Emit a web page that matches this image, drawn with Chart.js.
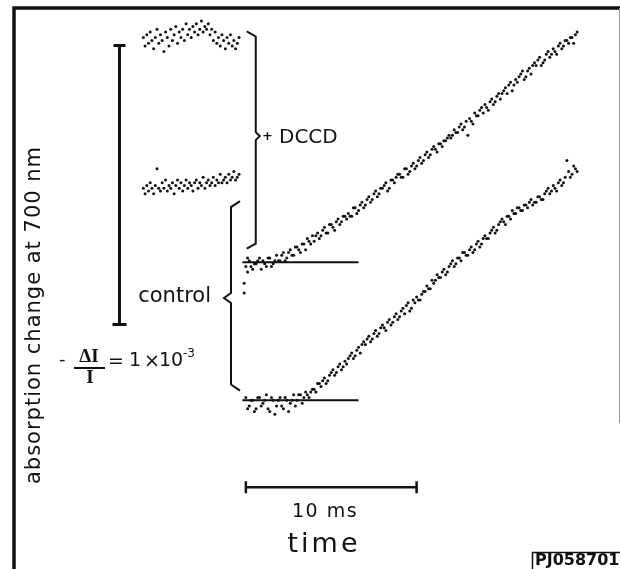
<!DOCTYPE html>
<html>
<head>
<meta charset="utf-8">
<script src="https://cdn.jsdelivr.net/npm/chart.js@4.4.1/dist/chart.umd.min.js"></script>
<style>
  html, body { margin: 0; padding: 0; background: #fff; }
  #wrap { width: 620px; height: 569px; }
</style>
</head>
<body>
<div id="wrap"><canvas id="myChart" width="620" height="569"></canvas></div>
<script>
// time in ms (0 = flash), absorption change in units of 1e-4 (traces offset for display)
const tPre = [-6.0, -5.9, -5.8, -5.7, -5.6, -5.5, -5.4, -5.3, -5.2, -5.1,
  -5.0, -4.9, -4.8, -4.7, -4.6, -4.5, -4.4, -4.3, -4.2, -4.1,
  -4.0, -3.9, -3.8, -3.7, -3.6, -3.5, -3.4, -3.3, -3.2, -3.1,
  -3.0, -2.9, -2.8, -2.7, -2.6, -2.5, -2.4, -2.3, -2.2, -2.1,
  -2.0, -1.9, -1.8, -1.7, -1.6, -1.5, -1.4, -1.3, -1.2, -1.1,
  -1.0, -0.9, -0.8, -0.7, -0.6, -0.5, -0.4];

const dccdPre = [13.0, 12.7, 13.1, 12.8, 13.2, 12.9, 12.6, 13.0, 13.3, 12.8,
  13.1, 12.9, 12.5, 13.2, 13.0, 12.7, 13.3, 12.9, 13.1, 13.4,
  12.8, 13.2, 13.0, 13.3, 12.9, 13.5, 13.1, 13.3, 13.0, 13.4,
  13.2, 13.5, 13.1, 13.3, 13.6, 13.2, 13.4, 13.3, 13.5, 13.1,
  13.3, 12.9, 13.2, 12.8, 13.0, 12.7, 13.1, 12.9, 12.6, 13.0,
  12.8, 13.1, 12.7, 12.9, 12.6, 12.8, 13.0];

const controlPre = [7.6, 7.4, 7.7, 7.5, 7.8, 7.6, 7.4, 7.7, 8.3, 7.6,
  7.5, 7.8, 7.6, 7.9, 7.5, 7.7, 7.6, 7.8, 7.4, 7.7,
  7.9, 7.6, 7.8, 7.5, 7.7, 7.9, 7.6, 7.8, 7.7, 7.5,
  7.8, 7.9, 7.6, 7.8, 7.7, 8.0, 7.6, 7.8, 7.9, 7.7,
  7.8, 8.0, 7.7, 7.9, 7.8, 8.1, 7.8, 7.9, 8.0, 7.8,
  8.1, 7.9, 8.0, 8.2, 7.9, 8.0, 8.1];

const tPost = [0.0, 0.2, 0.4, 0.6, 0.8, 1.0, 1.2, 1.4, 1.6, 1.8,
  2.0, 2.2, 2.4, 2.6, 2.8, 3.0, 3.2, 3.4, 3.6, 3.8,
  4.0, 4.2, 4.4, 4.6, 4.8, 5.0, 5.2, 5.4, 5.6, 5.8,
  6.0, 6.2, 6.4, 6.6, 6.8, 7.0, 7.2, 7.4, 7.6, 7.8,
  8.0, 8.2, 8.4, 8.6, 8.8, 9.0, 9.2, 9.4, 9.6, 9.8,
  10.0, 10.2, 10.4, 10.6, 10.8, 11.0, 11.2, 11.4, 11.6, 11.8,
  12.0, 12.2, 12.4, 12.6, 12.8, 13.0, 13.2, 13.4, 13.6, 13.8,
  14.0, 14.2, 14.4, 14.6, 14.8, 15.0, 15.2, 15.4, 15.6, 15.8,
  16.0, 16.2, 16.4, 16.6, 16.8, 17.0, 17.2, 17.4, 17.6, 17.8,
  18.0, 18.2, 18.4, 18.6, 18.8, 19.0, 19.2, 19.4];

const dccdPost = [4.8, 5.0, 4.7, 4.9, 5.1, 5.0, 4.8, 5.1, 4.9, 5.2,
  5.0, 5.3, 5.1, 5.4, 5.2, 5.5, 5.3, 5.6, 5.8, 5.6,
  5.7, 6.0, 5.9, 6.2, 6.0, 6.3, 6.1, 6.5, 6.4, 6.6,
  6.7, 6.6, 6.9, 6.8, 7.1, 7.0, 7.3, 7.2, 7.5, 7.4,
  7.6, 7.8, 7.6, 7.9, 8.0, 8.1, 8.0, 8.3, 8.2, 8.5,
  8.4, 8.7, 8.6, 8.9, 8.8, 9.1, 8.9, 9.2, 9.3, 9.4,
  9.4, 9.7, 9.6, 9.9, 9.8, 9.5, 10.0, 10.3, 10.2, 10.5,
  10.6, 10.4, 10.8, 10.7, 11.0, 11.0, 11.2, 11.3, 11.1, 11.5,
  11.6, 11.8, 11.6, 11.9, 12.0, 12.0, 12.3, 12.1, 12.4, 12.3,
  12.6, 12.4, 12.8, 12.7, 12.9, 13.0, 12.8, 13.2];

const controlPost = [0.1, -0.2, 0.0, -0.3, 0.1, -0.1, 0.2, -0.4, 0.0, -0.2,
  0.1, -0.3, 0.0, -0.1, 0.2, 0.0, 0.2, 0.1, 0.2, 0.3,
  0.4, 0.6, 0.5, 0.8, 0.7, 1.0, 0.9, 1.2, 1.1, 1.4,
  1.5, 1.7, 1.6, 1.9, 2.0, 2.0, 2.3, 2.2, 2.5, 2.4,
  2.7, 2.5, 2.9, 2.8, 3.1, 3.0, 3.3, 3.4, 3.2, 3.6,
  3.7, 3.6, 3.9, 4.1, 4.0, 4.2, 4.5, 4.4, 4.7, 4.6,
  4.9, 4.8, 5.1, 5.0, 5.3, 5.2, 5.5, 5.4, 5.7, 5.6,
  5.9, 5.8, 6.1, 6.0, 6.3, 6.5, 6.3, 6.6, 6.8, 6.7,
  6.9, 6.8, 7.0, 7.1, 7.0, 7.1, 7.3, 7.2, 7.5, 7.4,
  7.7, 7.5, 7.9, 7.8, 8.6, 8.0, 8.4, 8.2];

// second set of samples, between the first ones
const tPostB = [0.1, 0.3, 0.5, 0.7, 0.9, 1.1, 1.3, 1.5, 1.7, 1.9,
  2.1, 2.3, 2.5, 2.7, 2.9, 3.1, 3.3, 3.5, 3.7, 3.9,
  4.1, 4.3, 4.5, 4.7, 4.9, 5.1, 5.3, 5.5, 5.7, 5.9,
  6.1, 6.3, 6.5, 6.7, 6.9, 7.1, 7.3, 7.5, 7.7, 7.9,
  8.1, 8.3, 8.5, 8.7, 8.9, 9.1, 9.3, 9.5, 9.7, 9.9,
  10.1, 10.3, 10.5, 10.7, 10.9, 11.1, 11.3, 11.5, 11.7, 11.9,
  12.1, 12.3, 12.5, 12.7, 12.9, 13.1, 13.3, 13.5, 13.7, 13.9,
  14.1, 14.3, 14.5, 14.7, 14.9, 15.1, 15.3, 15.5, 15.7, 15.9,
  16.1, 16.3, 16.5, 16.7, 16.9, 17.1, 17.3, 17.5, 17.7, 17.9,
  18.1, 18.3, 18.5, 18.7, 18.9, 19.1, 19.3];

const dccdPostB = [5.1, 4.8, 4.9, 5.0, 4.7, 4.9, 5.1, 4.8, 5.0, 5.0,
  5.2, 5.0, 5.3, 5.2, 5.5, 5.4, 5.6, 5.4, 5.7, 5.9,
  5.9, 5.8, 6.1, 6.0, 6.3, 6.2, 6.4, 6.3, 6.6, 6.5,
  6.6, 6.9, 6.7, 7.0, 6.9, 7.2, 7.1, 7.4, 7.3, 7.6,
  7.7, 7.5, 7.9, 7.8, 8.1, 8.0, 8.3, 8.1, 8.4, 8.3,
  8.6, 8.5, 8.8, 8.7, 9.0, 9.0, 9.2, 9.1, 9.3, 9.5,
  9.5, 9.6, 9.8, 9.7, 10.0, 10.1, 9.9, 10.2, 10.4, 10.3,
  10.5, 10.7, 10.6, 10.9, 10.8, 11.1, 11.0, 11.4, 11.3, 11.4,
  11.7, 11.5, 11.8, 11.7, 12.1, 12.2, 12.0, 12.2, 12.5, 12.4,
  12.5, 12.7, 12.6, 12.9, 12.8, 13.0, 13.1];

const controlPostB = [-0.3, 0.0, -0.4, 0.1, -0.2, 0.0, -0.3, 0.1, -0.5, 0.0,
  -0.2, 0.1, -0.4, 0.0, -0.2, 0.2, -0.1, 0.3, 0.1, 0.4,
  0.3, 0.6, 0.7, 0.6, 0.9, 1.1, 1.0, 1.3, 1.2, 1.3,
  1.6, 1.5, 1.8, 1.7, 2.1, 2.2, 2.1, 2.4, 2.3, 2.6,
  2.6, 2.8, 2.7, 3.0, 2.9, 3.2, 3.1, 3.5, 3.3, 3.5,
  3.6, 3.8, 3.9, 4.0, 4.3, 4.3, 4.4, 4.6, 4.5, 4.8,
  5.0, 4.9, 5.1, 5.3, 5.2, 5.4, 5.3, 5.6, 5.5, 5.8,
  5.8, 6.0, 6.2, 6.1, 6.4, 6.4, 6.6, 6.5, 6.7, 6.9,
  6.8, 7.0, 6.9, 7.2, 7.1, 7.3, 7.2, 7.4, 7.6, 7.5,
  7.6, 7.8, 7.7, 8.0, 8.2, 8.1, 8.3];

// flash artefact dots of the DCCD trace
const spikeT = [-0.1, -0.1, 0.1];
const spikeY = [4.2, 3.85, 4.6];

// pre-flash reference lines
const baseT = [-0.2, 6.6];
const dccdBase = [4.95, 4.95];
const controlBase = [0, 0];

const toPoints = (xs, ys) => xs.map((x, i) => ({ x, y: ys[i] }));

const dotStyle = {
  pointRadius: 1.5,
  pointBorderWidth: 0,
  pointBackgroundColor: '#111',
  showLine: false
};

const decorations = {
  id: 'decorations',
  afterDatasetsDraw(chart) {
    const ctx = chart.ctx;
    const px = v => chart.scales.x.getPixelForValue(v);
    const py = v => chart.scales.y.getPixelForValue(v);
    ctx.save();
    ctx.strokeStyle = '#111';
    ctx.fillStyle = '#111';
    ctx.lineCap = 'butt';

    // frame
    ctx.lineWidth = 3.5;
    ctx.beginPath();
    ctx.moveTo(14, 569);
    ctx.lineTo(14, 8);
    ctx.lineTo(620, 8);
    ctx.stroke();
    ctx.strokeStyle = '#999';
    ctx.lineWidth = 1;
    ctx.beginPath();
    ctx.moveTo(619.5, 8);
    ctx.lineTo(619.5, 423);
    ctx.stroke();
    ctx.strokeStyle = '#111';

    // vertical scale bar: 1e-3 = 10 units
    const barX = px(-7.4), barLo = py(2.72), barHi = py(12.72);
    ctx.lineWidth = 3;
    ctx.beginPath();
    ctx.moveTo(barX, barLo);
    ctx.lineTo(barX, barHi);
    ctx.moveTo(barX - 6, barHi);
    ctx.lineTo(barX + 6, barHi);
    ctx.moveTo(barX - 7, barLo);
    ctx.lineTo(barX + 7, barLo);
    ctx.stroke();

    // horizontal scale bar: 10 ms
    const hy = py(-3.11), hx0 = px(0), hx1 = px(10);
    ctx.lineWidth = 2.5;
    ctx.beginPath();
    ctx.moveTo(hx0, hy);
    ctx.lineTo(hx1, hy);
    ctx.moveTo(hx0, hy - 6);
    ctx.lineTo(hx0, hy + 6);
    ctx.moveTo(hx1, hy - 6);
    ctx.lineTo(hx1, hy + 6);
    ctx.stroke();

    // braces
    ctx.lineWidth = 2;
    ctx.lineJoin = 'miter';
    const bx = px(0.58), bTop = py(13.22), bTip = py(9.47), bBot = py(5.44);
    ctx.beginPath();
    ctx.moveTo(bx - 9, bTop);
    ctx.lineTo(bx, bTop + 5);
    ctx.lineTo(bx, bTip - 4);
    ctx.lineTo(bx + 4, bTip);
    ctx.lineTo(bx, bTip + 4);
    ctx.lineTo(bx, bBot - 5);
    ctx.lineTo(bx - 9, bBot);
    ctx.stroke();

    const cx = px(-0.87), cTop = py(7.14), cTip = py(3.67), cBot = py(0.35);
    ctx.beginPath();
    ctx.moveTo(cx + 9, cTop);
    ctx.lineTo(cx, cTop + 6);
    ctx.lineTo(cx, cTip - 5);
    ctx.lineTo(cx - 7, cTip);
    ctx.lineTo(cx, cTip + 5);
    ctx.lineTo(cx, cBot - 6);
    ctx.lineTo(cx + 9, cBot);
    ctx.stroke();

    // texts
    ctx.textBaseline = 'middle';
    ctx.textAlign = 'left';
    ctx.font = 'bold 13px "DejaVu Sans"';
    ctx.fillText('+', 262, bTip + 1);
    ctx.font = '20px "DejaVu Sans"';
    ctx.fillText('DCCD', 279, bTip + 2);

    ctx.font = '21px "DejaVu Sans"';
    ctx.textAlign = 'right';
    ctx.fillText('control', 211, cTip - 1);

    // -ΔI/I = 1 x 10^-3
    ctx.textAlign = 'left';
    ctx.font = '18px "DejaVu Sans"';
    ctx.fillText('-', 59, 360);
    ctx.font = 'bold 19px "Liberation Serif"';
    ctx.textAlign = 'center';
    ctx.fillText('\u0394I', 89, 357);
    ctx.fillText('I', 90, 378);
    ctx.fillRect(74, 367, 31, 2);
    ctx.textAlign = 'left';
    ctx.font = '19px "DejaVu Sans"';
    ctx.fillText('=', 108, 362);
    ctx.fillText('1', 129, 361);
    ctx.fillText('\u00d7', 144, 362);
    ctx.fillText('10', 159, 361);
    ctx.font = '12px "DejaVu Sans"';
    ctx.fillText('-3', 183, 354);

    // axis titles
    ctx.textAlign = 'center';
    ctx.font = '19px "DejaVu Sans"';
    ctx.letterSpacing = '1.5px';
    ctx.fillText('10 ms', 325, 512);
    ctx.font = '27px "DejaVu Sans"';
    ctx.letterSpacing = '3px';
    ctx.fillText('time', 324, 545);

    ctx.save();
    ctx.translate(35, 315);
    ctx.rotate(-Math.PI / 2);
    ctx.font = '21px "DejaVu Sans"';
    ctx.letterSpacing = '1px';
    ctx.fillText('absorption change at 700 nm', 0, 0);
    ctx.restore();

    // plate id
    ctx.letterSpacing = '0px';
    ctx.lineWidth = 1.5;
    ctx.strokeRect(532.5, 552.5, 100, 30);
    ctx.textAlign = 'left';
    ctx.font = 'bold 16px "DejaVu Sans"';
    ctx.fillText('PJ058701', 535, 561);
    ctx.restore();
  }
};

const config = {
  type: 'scatter',
  data: {
    datasets: [
      { label: '+DCCD before', data: toPoints(tPre, dccdPre), ...dotStyle },
      { label: 'control before', data: toPoints(tPre, controlPre), ...dotStyle },
      { label: '+DCCD', data: toPoints(tPost, dccdPost), ...dotStyle },
      { label: '+DCCD b', data: toPoints(tPostB, dccdPostB), ...dotStyle },
      { label: 'control', data: toPoints(tPost, controlPost), ...dotStyle },
      { label: 'control b', data: toPoints(tPostB, controlPostB), ...dotStyle },
      { label: 'artefact', data: toPoints(spikeT, spikeY), ...dotStyle },
      { label: 'DCCD base', data: toPoints(baseT, dccdBase), showLine: true, pointRadius: 0, borderColor: '#111', borderWidth: 2 },
      { label: 'control base', data: toPoints(baseT, controlBase), showLine: true, pointRadius: 0, borderColor: '#111', borderWidth: 2 }
    ]
  },
  options: {
    responsive: false,
    animation: false,
    layout: { padding: 0 },
    plugins: {
      legend: { display: false },
      tooltip: { enabled: false }
    },
    scales: {
      x: { type: 'linear', min: -14.162, max: 21.676, display: false },
      y: { type: 'linear', min: -5.901, max: 14.205, display: false }
    }
  },
  plugins: [decorations]
};

const myChart = document.getElementById('myChart');
myChart.style.backgroundColor = 'white';
new Chart(myChart, config);
</script>
</body>
</html>
